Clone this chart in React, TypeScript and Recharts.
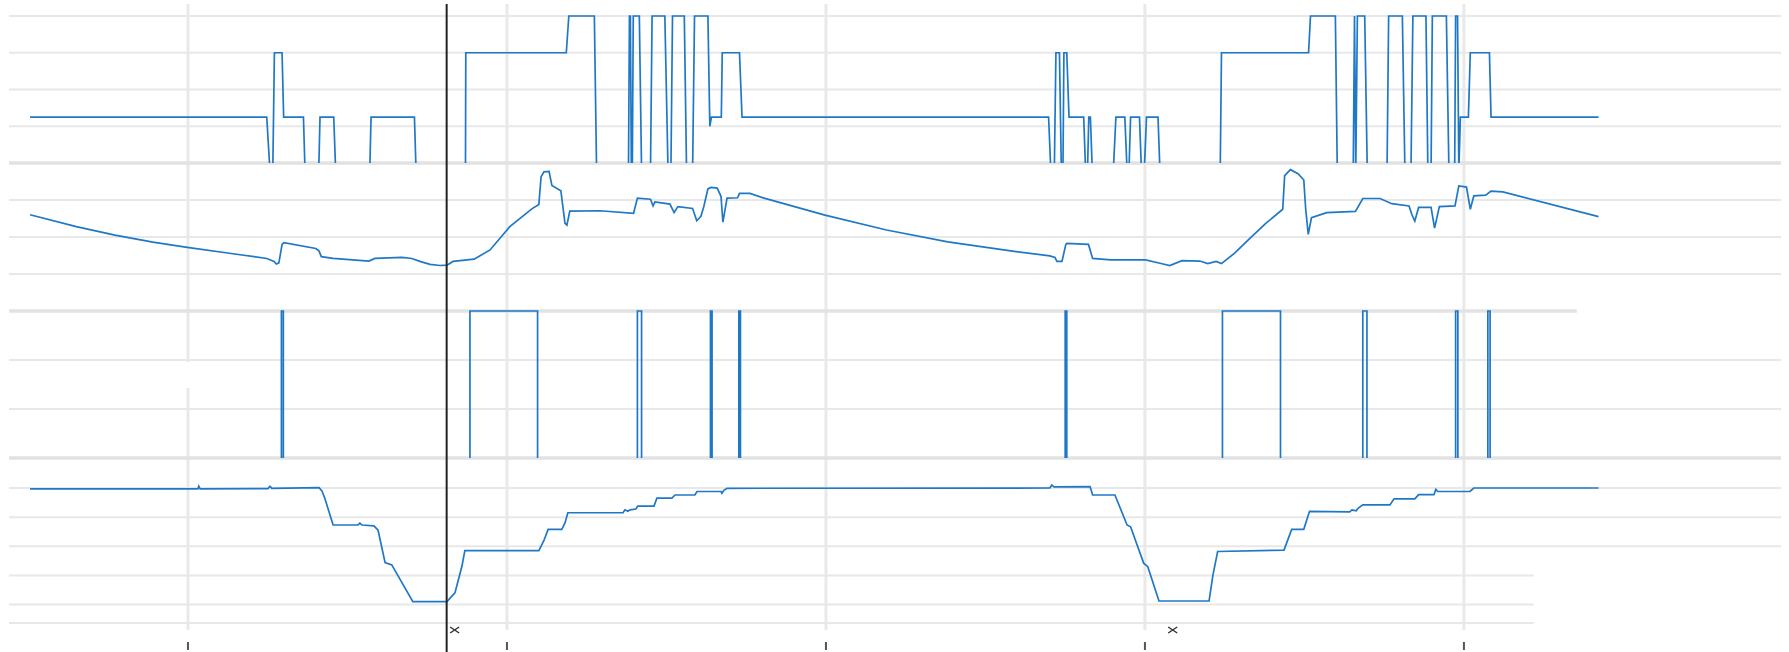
import {
  LineChart, Line, XAxis, YAxis, ReferenceLine, ScatterChart, Scatter
} from 'recharts';

// time axis (s)
const T_MIN = 43.9;
const T_MAX = 599.4;
const tickTimes = [100, 200, 300, 400, 500];
const cursorTime = 181.1;
const markerTimes = [183.6, 408.7];

// panel 1: mode / step signal [t, value]
const modeTrace: [number, number][] = [
  [50.5, 1.25], [124.7, 1.25], [125.7, -0.2], [126.6, -0.2], [127.1, 3], [129.5, 3], [130.0, 1.25],
  [136.2, 1.25], [136.7, -0.2], [141.0, -0.2], [141.4, 1.25], [145.7, 1.25], [146.3, -0.2],
  [157.0, -0.2], [157.4, 1.25], [171.0, 1.25], [171.5, -0.2], [187.0, -0.2], [187.1, 3],
  [218.6, 3], [219.4, 4], [227.4, 4], [228.1, -0.2], [238.1, -0.2], [238.4, 4], [238.7, 4],
  [239.0, -0.2], [239.3, -0.2], [239.6, 4], [241.5, 4], [242.2, -0.2], [245.0, -0.2], [245.5, 4],
  [249.5, 4], [250.5, -0.2], [251.4, -0.2], [251.9, 4], [255.6, 4], [256.3, -0.2], [258.2, -0.2],
  [258.8, 4], [263.0, 4], [263.6, 1], [264.1, 1.25], [267.2, 1.25], [267.5, 3], [272.9, 3],
  [273.7, 1.25], [369.8, 1.25], [370.5, -0.2], [371.6, -0.2], [372.1, 3], [373.2, 3], [373.8, -0.2],
  [374.3, -0.2], [374.6, 3], [375.5, 3], [376.2, 1.25], [380.8, 1.25], [381.4, -0.2], [382.0, -0.2],
  [382.4, 1.25], [382.9, 1.25], [383.5, -0.2], [390.1, -0.2], [390.9, 1.25], [393.7, 1.25],
  [394.4, -0.2], [395.0, -0.2], [395.5, 1.25], [398.3, 1.25], [398.9, -0.2], [399.8, -0.2],
  [400.5, 1.25], [404.1, 1.25], [404.7, -0.2], [423.6, -0.2], [424.0, 3], [451.3, 3], [451.9, 4],
  [459.7, 4], [460.3, -0.2], [465.3, -0.2], [465.7, 4], [466.1, -0.2], [466.6, 4], [468.9, 4],
  [469.7, -0.2], [475.9, -0.2], [476.4, 4], [480.7, 4], [481.5, -0.2], [483.4, -0.2], [484.0, 4],
  [488.1, 4], [488.7, -0.2], [489.7, -0.2], [490.1, 4], [494.5, 4], [495.3, -0.2], [497.1, -0.2],
  [497.4, 4], [498.0, 4], [498.4, -0.2], [498.9, 1.25], [501.4, 1.25], [502.0, 3], [508.0, 3],
  [508.5, 1.25], [542.2, 1.25],
];

// panel 2: smooth temperature-like curve [t, value]
const tempTrace: [number, number][] = [
  [50.5, 2.6], [65.0, 2.28], [77.1, 2.05], [89.0, 1.86], [99.8, 1.72], [113.0, 1.56], [124.7, 1.42],
  [127.0, 1.34], [127.7, 1.27], [128.5, 1.3], [129.5, 1.8], [130.1, 1.85], [140.1, 1.69], [141.1, 1.62],
  [141.8, 1.47], [145.5, 1.42], [156.7, 1.35], [158.6, 1.42], [167.1, 1.45], [170.2, 1.42],
  [172.7, 1.34], [175.9, 1.26], [179.0, 1.23], [181.2, 1.24], [183.1, 1.34], [189.7, 1.4],
  [194.7, 1.65], [200.9, 2.28], [207.8, 2.76], [210.0, 2.88], [210.7, 3.63], [211.6, 3.76],
  [213.2, 3.77], [214.1, 3.39], [216.9, 3.25], [218.2, 2.37], [218.8, 2.32], [219.7, 2.7],
  [229.2, 2.71], [239.7, 2.64], [240.9, 3.05], [245.0, 3.02], [245.8, 2.84], [246.4, 2.95],
  [251.1, 2.89], [252.4, 2.66], [253.6, 2.82], [258.2, 2.77], [259.5, 2.44], [260.8, 2.56],
  [261.7, 2.82], [263.0, 3.3], [264.0, 3.34], [265.9, 3.32], [267.1, 3.1], [267.7, 2.4],
  [269.0, 3.05], [272.3, 3.06], [272.9, 3.18], [276.2, 3.18], [280.6, 3.05], [299.7, 2.59],
  [319.0, 2.19], [338.2, 1.87], [357.4, 1.63], [370.2, 1.49], [371.8, 1.45], [372.4, 1.34],
  [374.0, 1.34], [375.2, 1.8], [375.5, 1.83], [382.3, 1.8], [383.6, 1.42], [389.3, 1.38],
  [400.2, 1.38], [404.7, 1.29], [407.8, 1.23], [411.6, 1.36], [417.2, 1.35], [419.7, 1.28],
  [422.3, 1.34], [424.0, 1.28], [428.2, 1.57], [432.9, 1.96], [437.8, 2.36], [443.2, 2.75],
  [443.8, 3.66], [445.6, 3.82], [448.0, 3.71], [449.8, 3.54], [450.4, 2.75], [451.2, 2.07],
  [452.2, 2.52], [457.0, 2.66], [466.0, 2.69], [468.3, 3.04], [473.7, 3.04], [477.4, 2.9],
  [482.8, 2.84], [483.7, 2.6], [484.6, 2.43], [485.8, 2.8], [489.7, 2.8], [490.8, 2.24],
  [492.3, 2.82], [497.2, 2.84], [498.4, 3.38], [500.8, 3.35], [502.0, 2.75], [503.1, 3.11],
  [506.8, 3.13], [508.5, 3.24], [512.2, 3.22], [542.2, 2.55],
];

// panel 3: on/off flag pulses
const flagStarts = [129.3, 188.4, 240.9, 263.8, 272.7, 375.0, 424.3, 468.3, 497.4, 507.5];
const flagEnds = [129.9, 209.6, 242.2, 264.3, 273.2, 375.5, 442.5, 469.6, 498.1, 508.2];
const flagOn = 1;
const flagOff = -0.1;

// panel 4: stepped level [t, value]
const levelTrace: [number, number][] = [
  [50.5, 3.97], [103.1, 3.97], [103.4, 4.06], [103.8, 3.97], [125.1, 3.98], [125.7, 4.06],
  [126.3, 3.99], [141.1, 4.01], [142.0, 3.9], [142.9, 3.65], [145.5, 2.73], [153.3, 2.73],
  [153.9, 2.79], [154.5, 2.73], [158.3, 2.7], [159.6, 2.55], [161.8, 1.44], [163.9, 1.36],
  [170.5, 0.1], [181.2, 0.1], [183.7, 0.4], [185.9, 1.32], [186.8, 1.85], [210.0, 1.85],
  [211.6, 2.2], [212.9, 2.58], [217.2, 2.58], [218.2, 2.8], [219.1, 3.15], [236.4, 3.15],
  [237.0, 3.25], [237.9, 3.2], [238.6, 3.25], [240.4, 3.28], [241.0, 3.38], [246.1, 3.38],
  [247.0, 3.65], [251.7, 3.65], [252.7, 3.76], [258.9, 3.76], [259.6, 3.88], [267.1, 3.88],
  [267.4, 3.82], [268.0, 3.92], [269.0, 3.99], [370.2, 4.0], [370.8, 4.1], [371.5, 4.04],
  [382.8, 4.05], [383.6, 3.76], [390.6, 3.76], [394.4, 2.73], [395.5, 2.67], [399.6, 1.42],
  [400.9, 1.3], [404.4, 0.12], [420.1, 0.12], [421.3, 1.0], [422.8, 1.82], [443.6, 1.87],
  [446.0, 2.58], [449.8, 2.58], [451.6, 3.2], [464.2, 3.18], [464.9, 3.25], [466.2, 3.22],
  [466.8, 3.3], [468.3, 3.42], [476.8, 3.42], [478.1, 3.63], [484.6, 3.63], [485.8, 3.77],
  [490.6, 3.77], [491.2, 3.95], [491.8, 3.88], [501.9, 3.88], [503.1, 4.0], [542.2, 4.0],
];

const W = 1789;
const H = 652;
const BLUE = '#1f78c6';
const GRID = '#e8e8e8';
const GRID_DARK = '#e2e2e2';
const PAD = 6;
const chartMargin = { top: PAD, right: 8, bottom: PAD, left: 9 };

const toRows = (trace: [number, number][]) => trace.map(([t, v]) => ({ t, v }));

const flagRows = () => {
  const rows = [{ t: 50.5, v: flagOff }];
  flagStarts.forEach((s, i) => {
    rows.push({ t: s, v: flagOff }, { t: s, v: flagOn }, { t: flagEnds[i], v: flagOn }, { t: flagEnds[i], v: flagOff });
  });
  rows.push({ t: 542.2, v: flagOff });
  return rows;
};

const markerRows = markerTimes.map((t) => ({ t, y: 0 }));

interface GridLine { v: number; thick?: boolean; end?: number }

interface PanelProps {
  rows: { t: number; v: number }[];
  plotTop: number;
  plotBottom: number;
  domain: [number, number];
  grid: GridLine[];
  clip?: boolean;
}

const Panel = ({ rows, plotTop, plotBottom, domain, grid, clip }: PanelProps) => (
  <div style={{ position: 'absolute', left: 0, top: plotTop - PAD }}>
    <LineChart width={W} height={plotBottom - plotTop + 2 * PAD} data={rows} margin={chartMargin}>
      <XAxis dataKey="t" type="number" domain={[T_MIN, T_MAX]} hide allowDataOverflow />
      <YAxis type="number" domain={domain} hide allowDataOverflow={!!clip} />
      {grid.map((g) => (
        <ReferenceLine
          key={g.v}
          ifOverflow="visible"
          segment={[{ x: T_MIN, y: g.v }, { x: g.end ?? T_MAX, y: g.v }]}
          stroke={g.thick ? GRID_DARK : GRID}
          strokeWidth={g.thick ? 3.5 : 2}
        />
      ))}
      <Line type="linear" dataKey="v" stroke={BLUE} strokeWidth={1.7} dot={false} isAnimationActive={false} />
    </LineChart>
  </div>
);

const renderTickMark = (props: any) => (
  <line x1={props.x} x2={props.x} y1={props.y + 12} y2={props.y + 20} stroke="#555" strokeWidth={2} />
);

const renderCross = (props: any) => {
  const { cx, cy } = props;
  return (
    <path
      d={`M${cx - 4.5},${cy - 3}L${cx + 4.5},${cy + 3}M${cx - 4.5},${cy + 3}L${cx + 4.5},${cy - 3}`}
      stroke="#333" strokeWidth={1.5} fill="none"
    />
  );
};

const renderCursor = (props: any) => (
  <line x1={props.x1} x2={props.x2} y1={Math.min(props.y1, props.y2)} y2={Math.max(props.y1, props.y2) + 22}
    stroke="#222" strokeWidth={2} />
);

const frameMargin = { top: 4, right: 8, bottom: 0, left: 9 };

export default function App() {
  return (
    <div style={{ position: 'absolute', left: 0, top: 0, width: W, height: H, background: '#fff' }}>
      {/* vertical grid + bottom tick marks */}
      <div style={{ position: 'absolute', left: 0, top: 0 }}>
        <ScatterChart width={W} height={H} margin={frameMargin}>
          <XAxis dataKey="t" type="number" domain={[T_MIN, T_MAX]} ticks={tickTimes} interval={0}
            height={22} axisLine={false} tickLine={false} tickSize={0} tickMargin={0}
            tick={renderTickMark} allowDataOverflow />
          <YAxis dataKey="y" type="number" hide domain={[0, 1]} />
          {tickTimes.map((t) => (
            <ReferenceLine key={t} x={t} ifOverflow="visible" stroke="#e9e9e9" strokeWidth={3} />
          ))}
          <Scatter data={markerRows} shape={() => <g />} isAnimationActive={false} />
        </ScatterChart>
      </div>
      <div style={{ position: 'absolute', left: 150, top: 362, width: 72, height: 26, background: '#fff' }} />

      <Panel rows={toRows(modeTrace)} plotTop={10} plotBottom={163} domain={[0, 4.163]} clip
        grid={[{ v: 0, thick: true }, { v: 1 }, { v: 2 }, { v: 3 }, { v: 4 }]} />
      <Panel rows={toRows(tempTrace)} plotTop={163} plotBottom={311} domain={[0, 4]}
        grid={[{ v: 1 }, { v: 2 }, { v: 3 }]} />
      <Panel rows={flagRows()} plotTop={305} plotBottom={458} domain={[0, 1.0408]} clip
        grid={[{ v: 0, thick: true }, { v: 0.3333 }, { v: 0.6667 }, { v: 1, thick: true, end: 535.4 }]} />
      <Panel rows={toRows(levelTrace)} plotTop={458} plotBottom={623} domain={[-0.635, 5.03]}
        grid={[{ v: 4 }, { v: 3 }, { v: 2 }, { v: 1, end: 521.9 }, { v: 0, end: 521.9 }, { v: -0.635, end: 521.9 }]} />

      {/* cursor and markers */}
      <div style={{ position: 'absolute', left: 0, top: 0 }}>
        <ScatterChart width={W} height={H} margin={frameMargin}>
          <XAxis dataKey="t" type="number" domain={[T_MIN, T_MAX]} height={22} tick={false}
            axisLine={false} tickLine={false} allowDataOverflow />
          <YAxis dataKey="y" type="number" hide domain={[0, 1]} />
          <ReferenceLine x={cursorTime} ifOverflow="visible" stroke="#222" strokeWidth={2} shape={renderCursor} />
          <Scatter data={markerRows} shape={renderCross} isAnimationActive={false} />
        </ScatterChart>
      </div>
    </div>
  );
}
